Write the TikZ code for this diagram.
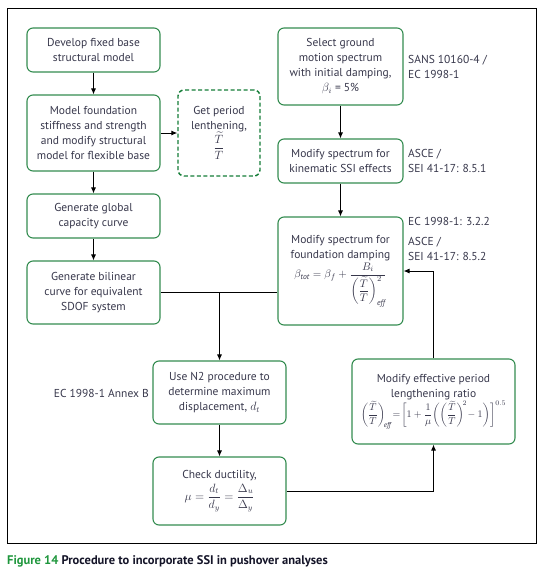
\documentclass[tikz,border=0pt]{standalone}
\usepackage{amsmath}
\usepackage{fontspec}
\setmainfont{PT Sans}
\usetikzlibrary{arrows.meta}
\definecolor{boxgreen}{RGB}{52,140,80}
\definecolor{dgreen}{RGB}{20,125,55}
\definecolor{txt}{RGB}{55,55,75}
\definecolor{figgreen}{RGB}{30,150,60}
\definecolor{capblk}{RGB}{20,20,40}
\newcommand{\rT}{\dfrac{\widetilde{T}}{T}}
\begin{document}
\begin{tikzpicture}[x=1pt,y=-1pt,
  box/.style={draw=boxgreen, line width=1.1pt, rounded corners=6pt, align=center, text=txt, inner sep=2pt, font=\fontsize{11.5}{15}\selectfont},
  dbox/.style={box, draw=dgreen, dash pattern=on 4pt off 2.5pt, line width=1.4pt},
  lbl/.style={text=txt, align=left, font=\fontsize{11.5}{15}\selectfont, inner sep=0pt},
  arr/.style={-{Latex[length=6pt,width=5pt]}, line width=0.9pt},
  ln/.style={line width=0.9pt}]
\useasboundingbox (0,0) rectangle (552,573);
\draw[line width=1pt] (7,8) rectangle (536,543);

\node[box, minimum width=133pt, minimum height=44pt] (b1) at (93.5,50) {Develop fixed base\\structural model};
\node[box, minimum width=133pt, minimum height=76pt] (b2) at (93.5,133) {Model foundation\\stiffness and strength\\and modify structural\\model for flexible base};
\node[dbox, minimum width=82pt, minimum height=86pt] (b3) at (219,133) {Get period\\lenthening,\\[-1pt]$\rT$};
\node[box, minimum width=133pt, minimum height=44pt] (b4) at (93.5,216) {Generate global\\capacity curve};
\node[box, minimum width=133pt, minimum height=63pt] (b5) at (93.5,292.5) {Generate bilinear\\curve for equivalent\\SDOF system};
\node[box, minimum width=125pt, minimum height=77pt] (b6) at (340.5,66.5) {Select ground\\motion spectrum\\with initial damping,\\$\beta_i$ = 5\%};
\node[box, minimum width=125pt, minimum height=44pt] (b7) at (340.5,161) {Modify spectrum for\\kinematic SSI effects};
\node[box, minimum width=125pt, minimum height=108pt] (b8) at (340.5,271) {Modify spectrum for\\foundation damping\\[1pt]{\fontsize{11}{13}\selectfont$\displaystyle\beta_{\mathit{tot}}=\beta_f+\frac{B_i}{\biggl(\rT\biggr)^{2}_{\mathit{eff}}}$}};
\node[box, minimum width=133pt, minimum height=63pt] (b9) at (219.5,392.5) {Use N2 procedure to\\determine maximum\\displacement, $d_t$};
\node[box, minimum width=133pt, minimum height=68pt] (b10) at (219.5,491) {Check ductility,\\[2pt]$\mu=\dfrac{d_t}{d_y}=\dfrac{\Delta_u}{\Delta_y}$};
\node[box, minimum width=163pt, minimum height=85pt, inner sep=1pt] (b11) at (433.5,401.5) {Modify effective period\\lengthening ratio\\{\fontsize{10}{12}\selectfont$\displaystyle\biggl(\rT\biggr)_{\!\mathit{eff}}\!=\!\biggl[1+\frac{1}{\mu}\biggl(\biggl(\rT\biggr)^{\!2}\!-1\biggr)\biggr]^{0.5}$}};

\node[lbl, anchor=west] (l1) at (408,66.5) {SANS 10160-4 /\\EC 1998-1};
\node[lbl, anchor=west] (l2) at (408,161) {ASCE /\\SEI 41-17: 8.5.1};
\node[lbl, anchor=west] (l3) at (408,221) {EC 1998-1: 3.2.2};
\node[lbl, anchor=west] (l4) at (408,248.5) {ASCE /\\SEI 41-17: 8.5.2};
\node[lbl, anchor=east] (l5) at (149,393) {EC 1998-1 Annex B};

\node[anchor=west, inner sep=0pt, font=\fontsize{12.5}{14}\selectfont\bfseries, text=capblk] (cap) at (7,561) {\textcolor{figgreen}{Figure 14} Procedure to incorporate SSI in pushover analyses};

\draw[arr] (b1) -- (b2);
\draw[arr] (b2) -- (b3);
\draw[arr] (b2) -- (b4);
\draw[arr] (b4) -- (b5);
\draw[arr] (b6) -- (b7);
\draw[arr] (b7) -- (b8);
\draw[arr] (b9) -- (b10);
\coordinate (j) at (b9.north |- b5.east);
\draw[ln] (b5.east) -- (b8.west |- b5.east);
\draw[arr] (j) -- (b9.north);
\draw[arr] (b10.east) -| (b11.south);
\draw[arr] (b11.north) |- (b8.east);
\end{tikzpicture}
\end{document}
